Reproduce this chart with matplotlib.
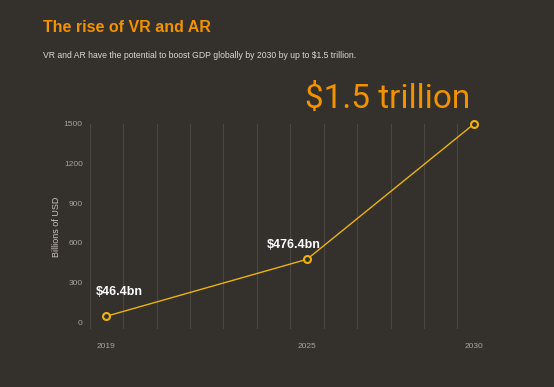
import matplotlib
matplotlib.use("Agg")
import matplotlib.pyplot as plt
import numpy as np

# data
years = [2019, 2025, 2030]
values = [46.4, 476.4, 1500]
labels = ["$46.4bn", "$476.4bn", None]
yticks = [0, 300, 600, 900, 1200, 1500]
xticks = [2019, 2025, 2030]

bg = "#34302b"
orange = "#f39200"
gold = "#ecb30f"

plt.rcParams['font.family'] = ['Liberation Sans', 'DejaVu Sans']

fig = plt.figure(figsize=(5.54, 3.87), dpi=100)
fig.patch.set_facecolor(bg)
ax = fig.add_axes([0.162, 0.150, 0.724, 0.530])
ax.set_facecolor(bg)

# half-year grid lines
for gx in np.arange(2018.5, 2031, 1.0):
    ax.axvline(gx, color="#4a4640", lw=0.8, zorder=0)

ax.plot(years, values, color=gold, lw=1.0, zorder=2, clip_on=False)
ax.plot(years, values, "o", ms=5, mfc=bg, mec=gold, mew=1.5, zorder=3, clip_on=False)

offsets = [(-7.7, 17.3), (-29.3, 10)]
for x, y, t, off in zip(years, values, labels, offsets):
    if t:
        ax.annotate(t, (x, y), xytext=off, textcoords="offset points",
                    color="white", fontsize=9, fontweight="bold", ha="left", va="center")

ax.set_xlim(2018.5, 2030.5)
ax.set_ylim(-50, 1500)
ax.set_yticks(yticks)
ax.set_xticks(xticks)
ax.tick_params(length=0, labelsize=6, labelcolor="#a8a49c")
ax.tick_params(axis="y", pad=5)
ax.tick_params(axis="x", pad=10)
for s in ax.spines.values():
    s.set_visible(False)
ax.set_ylabel("Billions of USD", color="#c8c4bc", fontsize=6.5, labelpad=2)

fig.text(0.078, 0.928, "The rise of VR and AR", color=orange, fontsize=11.5,
         fontweight="bold", va="center")
fig.text(0.078, 0.857, "VR and AR have the potential to boost GDP globally by 2030 by up to $1.5 trillion.",
         color="#dcd8d0", fontsize=6.2, va="center")
fig.text(0.551, 0.744, "$1.5 trillion", color=orange, fontsize=24,
         family=["Roboto", "DejaVu Sans"], fontweight="normal", va="center")

fig.savefig("out.png", dpi=100, facecolor=bg)
